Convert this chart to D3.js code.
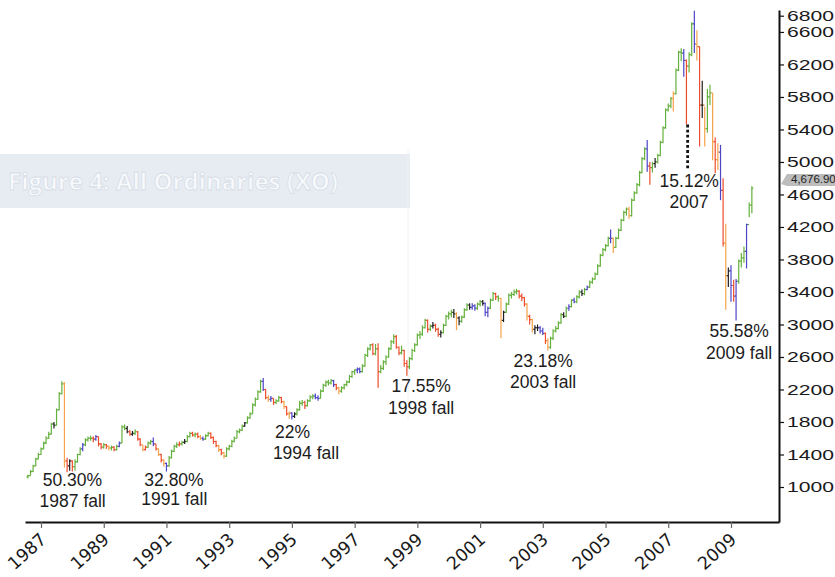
<!DOCTYPE html>
<html><head><meta charset="utf-8">
<script src="https://cdn.jsdelivr.net/npm/d3@7/dist/d3.min.js"></script>
<style>
html,body{margin:0;padding:0;background:#fff;}
svg{display:block;}
</style></head>
<body><svg id="chart" width="835" height="577"></svg>
<script>
// ---------------- DATA (monthly OHLC of the All Ordinaries, Aug 1986 - Sep 2009) ----------------
const firstMonth = [1986, 7]; // year, 0-based month of the first bar (Aug 1986)
const closes = [
  1140,1190,1260,1345,1400,
  1470,1540,1600,1650,1775,1760,1950,2150,2270,1320,1260,1320,
  1250,1310,1400,1470,1520,1580,1600,1600,1590,1620,1530,1490,
  1520,1500,1480,1490,1460,1500,1540,1740,1720,1680,1650,1660,
  1680,1590,1520,1460,1490,1540,1560,1530,1470,1400,1330,1290,
  1260,1360,1440,1500,1520,1530,1550,1560,1620,1660,1640,1650,
  1620,1600,1590,1630,1660,1610,1560,1510,1460,1420,1380,1470,
  1500,1560,1600,1680,1700,1750,1790,1850,1900,2010,2080,2170,
  2300,2200,2100,2080,2090,2040,2060,2100,2050,1990,1900,1910,
  1870,1900,1950,2030,2040,2000,2060,2110,2120,2100,2090,2180,
  2250,2290,2280,2310,2260,2220,2180,2220,2260,2290,2360,2420,
  2440,2450,2420,2490,2620,2700,2750,2640,2700,2420,2460,2540,
  2600,2700,2790,2850,2720,2650,2680,2520,2480,2580,2680,2750,
  2870,2880,2960,3050,2940,2980,2990,2940,2880,2900,2990,3100,
  3130,3150,3130,3080,3040,3090,3180,3240,3210,3230,3200,3250,
  3280,3260,3150,3200,3300,3380,3340,3320,3050,3150,3250,3360,
  3370,3400,3410,3350,3330,3250,3100,3060,2940,2960,2960,2920,
  2890,2800,2720,2830,2920,2950,3020,3120,3100,3200,3220,3300,
  3280,3340,3400,3380,3430,3460,3520,3560,3620,3720,3850,3920,
  3970,4060,4060,3950,4060,4160,4280,4380,4420,4340,4530,4620,
  4720,4870,5040,5160,4950,4930,4980,5000,5080,5240,5420,5640,
  5690,5780,5840,6130,6350,6340,6250,6180,6320,6700,6450,6420,
  5700,5700,5410,5800,5850,5250,5030,5120,4650,4000,3600,3660,
  3480,3350,3530,3780,3820,3900,4230,4470,4677
];
const highs = [
  1150,1210,1275,1360,1420,
  1485,1560,1625,1680,1790,1800,1965,2170,2300,2290,1360,1340,
  1330,1340,1410,1490,1540,1600,1620,1630,1620,1640,1620,1540,
  1540,1530,1510,1510,1500,1520,1560,1760,1770,1750,1700,1690,
  1710,1690,1600,1520,1510,1560,1580,1610,1530,1470,1410,1340,
  1300,1380,1460,1520,1550,1560,1570,1590,1640,1680,1680,1670,
  1670,1640,1620,1650,1680,1670,1620,1570,1520,1470,1430,1490,
  1520,1580,1620,1700,1720,1770,1800,1870,1920,2030,2100,2190,
  2320,2340,2210,2130,2120,2090,2080,2120,2110,2060,1990,1930,
  1920,1920,1970,2060,2070,2060,2080,2130,2140,2150,2130,2200,
  2270,2310,2320,2330,2320,2270,2230,2240,2270,2310,2380,2430,
  2450,2470,2470,2510,2640,2720,2760,2770,2760,2770,2500,2560,
  2620,2720,2810,2880,2870,2730,2740,2690,2560,2600,2700,2770,
  2890,2920,2990,3070,3060,3000,3030,3010,2960,2930,3010,3120,
  3160,3180,3190,3150,3100,3110,3200,3260,3260,3260,3250,3270,
  3300,3300,3270,3220,3320,3400,3390,3360,3330,3170,3270,3380,
  3400,3430,3440,3420,3380,3340,3260,3120,3070,2990,3000,2980,
  2960,2900,2830,2850,2940,2980,3040,3140,3150,3220,3250,3310,
  3330,3360,3420,3430,3450,3480,3540,3580,3640,3740,3870,3940,
  3990,4080,4170,4070,4080,4180,4300,4400,4440,4450,4550,4640,
  4740,4890,5060,5180,5270,5000,5000,5050,5100,5260,5440,5660,
  5720,5800,5870,6150,6370,6400,6390,6260,6350,6720,6860,6620,
  6420,6000,5680,5900,5950,5850,5300,5230,5210,4800,4240,3700,
  3730,3550,3560,3800,3880,3960,4240,4500,4700
];
const lows = [
  1105,1140,1185,1255,1340,
  1395,1465,1530,1590,1645,1720,1755,1945,2140,1240,1180,1200,
  1190,1200,1300,1390,1440,1500,1560,1570,1550,1570,1500,1460,
  1470,1470,1450,1450,1440,1450,1490,1540,1700,1660,1630,1630,
  1640,1570,1500,1440,1450,1480,1520,1500,1450,1380,1300,1250,
  1190,1250,1350,1430,1480,1500,1510,1530,1550,1610,1620,1610,
  1600,1580,1570,1580,1620,1590,1530,1490,1430,1390,1350,1370,
  1450,1490,1550,1600,1660,1690,1740,1780,1840,1900,1990,2070,
  2160,2180,2080,2050,2050,2010,2020,2050,2030,1960,1880,1840,
  1830,1850,1880,1940,2000,1960,1990,2050,2080,2080,2060,2090,
  2170,2230,2250,2260,2230,2190,2140,2160,2200,2240,2280,2340,
  2380,2400,2400,2410,2480,2600,2680,2620,2620,2220,2400,2440,
  2500,2590,2690,2760,2700,2620,2630,2480,2370,2450,2560,2660,
  2740,2820,2860,2950,2900,2920,2950,2910,2850,2840,2890,2980,
  3060,3090,3080,2930,2990,3020,3080,3170,3180,3180,3170,3180,
  3220,3230,3100,3090,3190,3290,3300,3280,2830,3030,3140,3240,
  3320,3350,3370,3320,3290,3220,3050,3000,2900,2880,2920,2890,
  2870,2760,2680,2700,2810,2900,2940,3010,3080,3090,3170,3210,
  3260,3260,3320,3350,3360,3420,3450,3500,3550,3610,3710,3840,
  3900,3960,4000,3880,3940,4050,4150,4270,4340,4300,4330,4520,
  4610,4700,4860,5020,4880,4720,4870,4930,4980,5070,5230,5410,
  5620,5660,5620,5830,6120,6240,6050,5460,6100,6300,6340,6250,
  5190,5540,5190,5360,5700,5020,4860,4900,4530,3960,3180,3460,
  3280,3280,3050,3500,3700,3760,3690,4320,4370
];
// bar colour class per month: g=green, r=red, o=orange, b=blue, k=black
const barClassesByYear = [
  "ggggg",          // 1986 (Aug-Dec)
  "gggggkgggork",   // 1987
  "rgggbgggrbrr",   // 1988
  "grogrgbggkrk",   // 1989
  "grrorggbroro",   // 1990
  "bggggrgkggrg",   // 1991
  "robggrrrorog",   // 1992
  "ggggggkggggg",   // 1993
  "gbrobrggroro",   // 1994
  "bkgggrgggbbg",   // 1995
  "ggggbroggggg",   // 1996
  "gbbggggrgrgg",   // 1997
  "ggggrrgrrggg",   // 1998
  "ggggrgkrrkgg",   // 1999
  "ggkokgggkbbg",   // 2000
  "gkbbggrgokgg",   // 2001
  "gggrrrorokkb",   // 2002
  "brogggggkgbg",   // 2003
  "bggkgbgggggg",   // 2004
  "ggbogggggogg",   // 2005
  "ggggbrgkgggg",   // 2006
  "ggogggbrggbo",   // 2007
  "rkoggorobrok",   // 2008
  "brbgggbgg"       // 2009 (Jan-Sep)
];
const yTickValues = [1000,1400,1800,2200,2600,3000,3400,3800,4200,4600,5000,5400,5800,6200,6600,6800];
const xTickYears = [1987,1989,1991,1993,1995,1997,1999,2001,2003,2005,2007,2009];
const lastValueLabel = "4,676.90";
// annotation texts (two lines each) anchored in data space (decimal year, index value)
const annotations = [
  [{text:"50.30%", year:1988.00, value:1012}, {text:"1987 fall", year:1988.01, value:758}],
  [{text:"32.80%", year:1991.24, value:1012}, {text:"1991 fall", year:1991.25, value:775}],
  [{text:"22%",    year:1995.02, value:1607}, {text:"1994 fall", year:1995.45, value:1345}],
  [{text:"17.55%", year:1999.12, value:2169}, {text:"1998 fall", year:1999.12, value:1900}],
  [{text:"23.18%", year:2003.01, value:2480}, {text:"2003 fall", year:2003.01, value:2215}],
  [{text:"15.12%", year:2007.67, value:4695}, {text:"2007",      year:2007.66, value:4430}],
  [{text:"55.58%", year:2009.26, value:2850}, {text:"2009 fall", year:2009.26, value:2571}]
];
const dropMarker = {year:2007.62, from:5460, to:4920};

// ---------------- DRAWING ----------------
const colourOf = {g:"#64b03c", r:"#ee4d2c", o:"#f5a24a", b:"#4d45c8", k:"#1e1e1e"};
const svg = d3.select("#chart");
const barClasses = barClassesByYear.join("").split("");

const decDate = yr => { const y = Math.floor(yr); return new Date(y, 0, 1 + Math.round((yr - y) * 365)); };

const x0 = d3.scaleTime().domain([new Date(1987,0,1), new Date(2009,0,1)]).range([41, 731]);
const x = d3.scaleTime().domain([x0.invert(25), x0.invert(779)]).range([25, 779]);
const y0 = d3.scaleLinear().domain([1000, 6800]).range([487, 15.7]);
const y = d3.scaleLinear().domain([y0.invert(522), y0.invert(10)]).range([522, 10]);

// faint page background elements (scanned book page)
svg.append("rect").attr("x",0).attr("y",154).attr("width",410).attr("height",54).attr("fill","#e7ecf3");
svg.append("text").attr("x",8).attr("y",190).attr("font-family","Open Sans").attr("font-weight",700)
  .attr("font-size",24).attr("fill","#f7f9fb").attr("stroke","#d6dde7").attr("stroke-width",0.8)
  .text("Figure 4: All Ordinaries (XO)");
svg.append("line").attr("x1",408).attr("x2",408).attr("y1",150).attr("y2",420).attr("stroke","#f0f0f0");

// bars
const bars = closes.map((c,i) => ({
  date: new Date(firstMonth[0], firstMonth[1] + i, 1),
  open: i === 0 ? lows[0] + 20 : closes[i-1],
  high: highs[i], low: lows[i], close: c, cls: barClasses[i] || "g"
}));
const gBars = svg.append("g");
const bar = gBars.selectAll("g").data(bars).join("g")
  .attr("stroke", d => colourOf[d.cls]).attr("stroke-width", 1.2);
bar.append("line").attr("x1", d => x(d.date)).attr("x2", d => x(d.date))
  .attr("y1", d => y(d.high)).attr("y2", d => y(d.low));
bar.append("line").attr("x1", d => x(d.date) - 1.5).attr("x2", d => x(d.date))
  .attr("y1", d => y(d.open)).attr("y2", d => y(d.open));
bar.append("line").attr("x1", d => x(d.date)).attr("x2", d => x(d.date) + 1.5)
  .attr("y1", d => y(d.close)).attr("y2", d => y(d.close));

// x axis
const gx = svg.append("g").attr("transform", "translate(0,522)")
  .call(d3.axisBottom(x).tickValues(xTickYears.map(v => new Date(v,0,1)))
        .tickFormat(d3.timeFormat("%Y")).tickSize(6).tickSizeOuter(0));
gx.select(".domain").attr("stroke","#111").attr("stroke-width",2);
gx.selectAll(".tick line").attr("stroke","#666").attr("stroke-width",1.2);
gx.selectAll(".tick text").attr("y",0).attr("x",0).attr("dy",0)
  .attr("transform","translate(6,19) rotate(-42)")
  .style("text-anchor","end").attr("font-family","DejaVu Sans").attr("font-size",17.5).attr("fill","#1a1a1a");

// y axis
const gy = svg.append("g").attr("transform", "translate(779,0)")
  .call(d3.axisRight(y).tickValues(yTickValues).tickFormat(d3.format("d")).tickSize(5).tickPadding(3).tickSizeOuter(0));
gy.select(".domain").attr("stroke","#111").attr("stroke-width",2);
gy.selectAll(".tick line").attr("stroke","#111").attr("stroke-width",1.2);
gy.selectAll(".tick text").attr("font-family","Liberation Sans").attr("font-size",14.5)
  .attr("textLength",47).attr("lengthAdjust","spacingAndGlyphs").attr("fill","#1a1a1a");

// last value flag
const lastY = 178;
svg.append("path").attr("d", `M781,${lastY+6} L787,${lastY-4} L835,${lastY-4} L835,${lastY+8} L787,${lastY+8} Z`)
  .attr("fill","#bdbdbd");
svg.append("text").attr("x",791).attr("y",lastY+5).attr("font-family","Liberation Sans").attr("font-size",11.5)
  .attr("fill","#222").text(lastValueLabel);

// drop marker (dotted)
svg.append("line").attr("x1", x(decDate(dropMarker.year))).attr("x2", x(decDate(dropMarker.year)))
  .attr("y1", y(dropMarker.from)).attr("y2", y(dropMarker.to))
  .attr("stroke","#111").attr("stroke-width",2.8).attr("stroke-dasharray","2.8,2.3");

// annotations (one text element per note, one tspan per line)
svg.append("g").selectAll("text").data(annotations).join("text")
  .attr("text-anchor","middle").attr("font-family","Liberation Sans").attr("font-size",17.5).attr("fill","#1c1c1c")
  .selectAll("tspan").data(d => d).join("tspan")
  .attr("x", d => x(decDate(d.year))).attr("y", d => y(d.value))
  .text(d => d.text);
</script>
</body></html>
